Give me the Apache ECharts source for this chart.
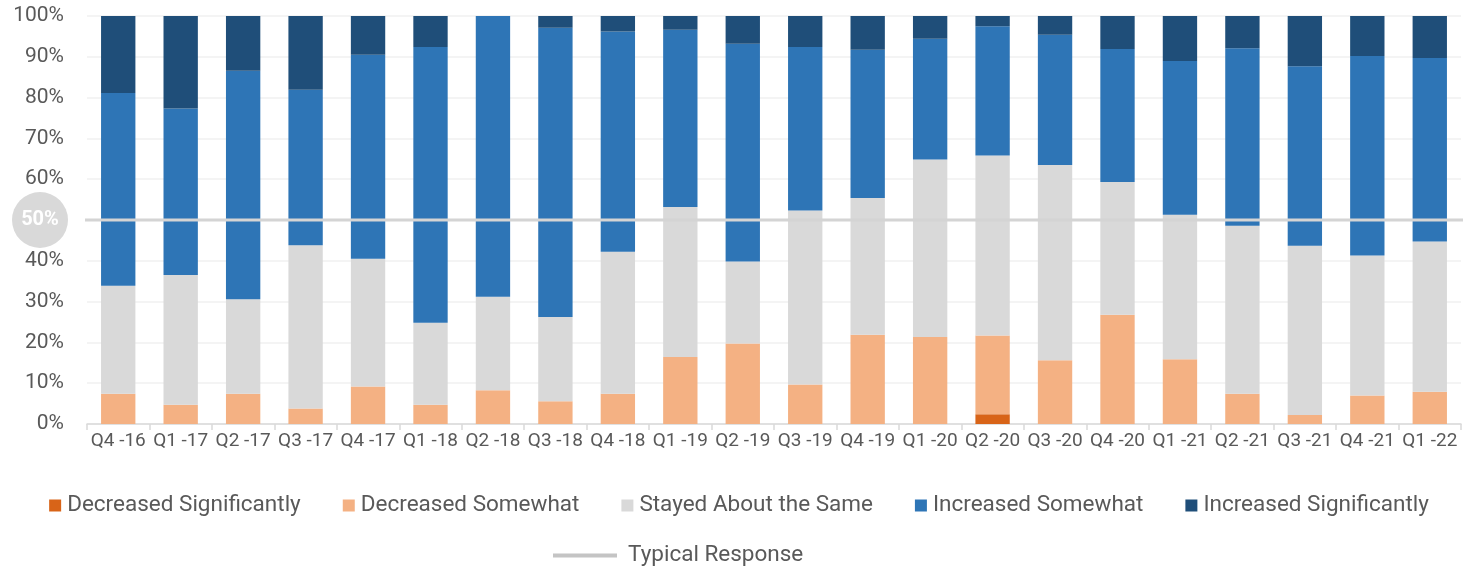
<!DOCTYPE html>
<html><head><meta charset="utf-8">
<script src="https://cdn.jsdelivr.net/npm/echarts@6/dist/echarts.min.js"></script>
<style>html,body{margin:0;padding:0;background:#fff}#c{width:1478px;height:570px}</style>
</head><body><div id="c"></div>
<script>
const categories = ['Q4 -16','Q1 -17','Q2 -17','Q3 -17','Q4 -17','Q1 -18','Q2 -18','Q3 -18','Q4 -18','Q1 -19','Q2 -19','Q3 -19','Q4 -19','Q1 -20','Q2 -20','Q3 -20','Q4 -20','Q1 -21','Q2 -21','Q3 -21','Q4 -21','Q1 -22'];
const decreasedSignificantly = [0,0,0,0,0,0,0,0,0,0,0,0,0,0,2.4,0,0,0,0,0,0,0];
const decreasedSomewhat = [7.4,4.7,7.4,3.8,9.2,4.7,8.3,5.6,7.4,16.4,19.7,9.7,21.9,21.3,19.3,15.6,26.8,15.9,7.4,2.2,7.0,7.9];
const stayedAboutTheSame = [26.5,31.8,23.2,40.0,31.3,20.1,22.9,20.6,34.8,36.8,20.1,42.6,33.5,43.5,44.1,47.9,32.5,35.4,41.2,41.5,34.3,36.8];
const increasedSomewhat = [47.2,40.8,56.0,38.1,50.0,67.6,68.8,70.9,54.0,43.4,53.4,40.1,36.3,29.6,31.7,31.9,32.6,37.7,43.5,44.0,48.9,45.0];
const increasedSignificantly = [18.9,22.7,13.4,18.1,9.5,7.6,0,2.9,3.8,3.4,6.8,7.6,8.3,5.6,2.5,4.6,8.1,11.0,7.9,12.3,9.8,10.3];
const typicalResponse = 50;
const yTicks = [0,10,20,30,40,50,60,70,80,90,100];

const font = 'Roboto';
const txt = '#595959';
const chart = echarts.init(document.getElementById('c'));
function bar(name, data, color) {
  return { name, type: 'bar', stack: 'total', data, barWidth: '55%', itemStyle: { color }, z: 2 };
}
chart.setOption({
  animation: false,
  textStyle: { fontFamily: font },
  grid: { left: 87, right: 17, top: 16, bottom: 146, containLabel: false },
  legend: [
    { data: ['Decreased Significantly','Decreased Somewhat','Stayed About the Same','Increased Somewhat','Increased Significantly'],
      left: 'center', top: 489, icon: 'rect', itemWidth: 12, itemHeight: 12, itemGap: 42,
      textStyle: { fontSize: 22.5, color: txt, fontFamily: font, padding: [0,0,0,1] } },
    { data: ['Typical Response'], left: 548, top: 539, icon: 'rect', itemWidth: 64, itemHeight: 4,
      textStyle: { fontSize: 22.5, color: txt, fontFamily: font, padding: [0,0,0,6] } }
  ],
  xAxis: [
    { type: 'category', data: categories,
      axisLine: { lineStyle: { color: '#d9d9d9', width: 1.5 } },
      axisTick: { show: true, length: 6, lineStyle: { color: '#d9d9d9', width: 1.5 } },
      axisLabel: { interval: 0, fontSize: 19, color: txt, margin: 8, fontFamily: font } },
    { type: 'value', min: 0, max: 22, show: false }
  ],
  yAxis: {
    type: 'value', min: 0, max: 100, interval: 10,
    axisLine: { show: false }, axisTick: { show: false },
    splitLine: { lineStyle: { color: '#f0f0f0', width: 1.5 } },
    axisLabel: {
      fontSize: 21, color: txt, margin: 19, fontFamily: font,
      formatter: v => v === typicalResponse ? '{c|' + v + '%}' : '{n|' + v + '%}',
      rich: {
        n: { fontSize: 21, color: txt, padding: [0, 4, 0, 0], fontFamily: font },
        c: { width: 56, height: 56, lineHeight: 56, borderRadius: 28, backgroundColor: '#d9d9d9',
             color: '#fff', fontWeight: 'bold', fontSize: 20, align: 'center', fontFamily: font } }
    }
  },
  series: [
    bar('Decreased Significantly', decreasedSignificantly, '#d86418'),
    bar('Decreased Somewhat', decreasedSomewhat, '#f4b183'),
    bar('Stayed About the Same', stayedAboutTheSame, '#d9d9d9'),
    bar('Increased Somewhat', increasedSomewhat, '#2e75b6'),
    bar('Increased Significantly', increasedSignificantly, '#1f4e79'),
    { name: 'Typical Response', type: 'line', xAxisIndex: 1, clip: false, symbol: 'none', z: 5,
      data: [[-0.32, typicalResponse], [22.19, typicalResponse]],
      itemStyle: { color: '#c4c4c4' },
      lineStyle: { color: '#d4d4d4', width: 3 } }
  ]
});
</script></body></html>
